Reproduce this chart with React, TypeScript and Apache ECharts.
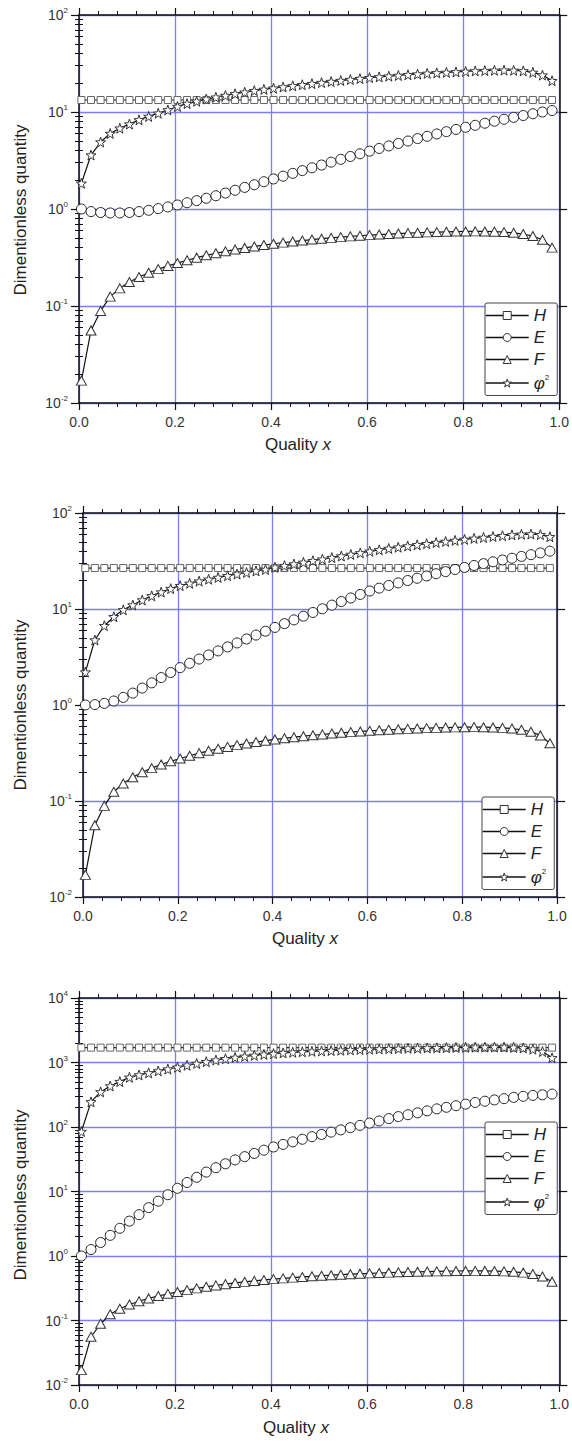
import React, { useEffect, useRef } from "react";
import * as echarts from "echarts";

// ---------- data ----------
const xQuality = [0.005,0.025,0.045,0.065,0.085,0.105,0.125,0.145,0.165,0.185,0.205,0.225,0.245,0.265,0.285,0.305,0.325,0.345,0.365,0.385,0.405,0.425,0.445,0.465,0.485,0.505,0.525,0.545,0.565,0.585,0.605,0.625,0.645,0.665,0.685,0.705,0.725,0.745,0.765,0.785,0.805,0.825,0.845,0.865,0.885,0.905,0.925,0.945,0.965,0.985];

const xTicks = ["0.0", "0.2", "0.4", "0.6", "0.8", "1.0"];

// panel 1
const H1 = [13.3,13.3,13.3,13.3,13.3,13.3,13.3,13.3,13.3,13.3,13.3,13.3,13.3,13.3,13.3,13.3,13.3,13.3,13.3,13.3,13.3,13.3,13.3,13.3,13.3,13.3,13.3,13.3,13.3,13.3,13.3,13.3,13.3,13.3,13.3,13.3,13.3,13.3,13.3,13.3,13.3,13.3,13.3,13.3,13.3,13.3,13.3,13.3,13.3,13.3];
const E1 = [1.00,0.94,0.92,0.91,0.91,0.92,0.94,0.97,1.01,1.05,1.10,1.16,1.22,1.29,1.37,1.46,1.56,1.67,1.78,1.91,2.04,2.18,2.33,2.49,2.66,2.84,3.04,3.25,3.48,3.71,3.95,4.21,4.47,4.74,5.02,5.32,5.62,5.94,6.27,6.61,6.95,7.29,7.66,8.04,8.41,8.81,9.20,9.59,10.0,10.35];
const F1 = [0.017,0.056,0.089,0.125,0.152,0.177,0.199,0.220,0.240,0.259,0.277,0.296,0.315,0.333,0.350,0.366,0.382,0.397,0.411,0.425,0.438,0.450,0.462,0.473,0.484,0.494,0.504,0.513,0.522,0.530,0.538,0.545,0.552,0.558,0.564,0.569,0.574,0.578,0.582,0.585,0.587,0.588,0.587,0.584,0.578,0.568,0.552,0.526,0.482,0.400];
const PHI1 = [1.84,3.6,4.9,6.0,6.8,7.5,8.3,9.0,9.7,10.5,11.4,12.2,12.9,13.6,14.2,14.8,15.4,16.0,16.6,17.1,17.6,18.1,18.6,19.1,19.6,20.1,20.6,21.1,21.6,22.1,22.6,23.0,23.4,23.8,24.2,24.6,25.0,25.3,25.6,25.9,26.2,26.5,26.7,26.9,27.0,26.9,26.5,25.6,24.0,21.0];

// panel 2
const H2 = [26.7,26.7,26.7,26.7,26.7,26.7,26.7,26.7,26.7,26.7,26.7,26.7,26.7,26.7,26.7,26.7,26.7,26.7,26.7,26.7,26.7,26.7,26.7,26.7,26.7,26.7,26.7,26.7,26.7,26.7,26.7,26.7,26.7,26.7,26.7,26.7,26.7,26.7,26.7,26.7,26.7,26.7,26.7,26.7,26.7,26.7,26.7,26.7,26.7,26.7];
const E2 = [1.00,1.01,1.04,1.10,1.20,1.33,1.50,1.70,1.93,2.18,2.45,2.72,3.01,3.32,3.66,4.03,4.43,4.87,5.35,5.87,6.43,7.04,7.70,8.42,9.20,10.05,10.97,11.96,13.03,14.18,15.40,16.5,17.6,18.7,19.8,20.9,22.1,23.3,24.5,25.8,27.1,28.4,29.7,31.0,32.4,33.8,35.3,36.8,38.4,40.0];
const F2 = [0.017,0.056,0.089,0.125,0.152,0.177,0.199,0.220,0.240,0.259,0.277,0.296,0.315,0.333,0.350,0.366,0.382,0.397,0.411,0.425,0.438,0.450,0.462,0.473,0.484,0.494,0.504,0.513,0.522,0.530,0.538,0.545,0.552,0.558,0.564,0.569,0.574,0.578,0.582,0.585,0.587,0.588,0.587,0.584,0.578,0.568,0.552,0.526,0.482,0.400];
const PHI2 = [2.2,4.75,6.7,8.3,9.8,11.0,12.4,13.7,15.0,16.3,17.5,18.5,19.5,20.4,21.3,22.2,23.1,24.0,24.9,25.8,27.2,28.3,29.4,30.6,31.8,33.0,34.3,35.6,37.0,38.4,39.9,41.3,42.7,44.0,45.3,46.6,47.9,49.2,50.5,51.8,53.1,54.4,55.6,56.8,58.0,59.1,60.0,60.3,59.5,56.5];

// panel 3
const H3 = [1700,1700,1700,1700,1700,1700,1700,1700,1700,1700,1700,1700,1700,1700,1700,1700,1700,1700,1700,1700,1700,1700,1700,1700,1700,1700,1700,1700,1700,1700,1700,1700,1700,1700,1700,1700,1700,1700,1700,1700,1700,1700,1700,1700,1700,1700,1700,1700,1700,1700];
const E3 = [1.0,1.26,1.62,2.09,2.69,3.47,4.37,5.62,7.08,8.91,11.2,13.8,16.6,20.0,23.4,26.9,30.9,34.7,38.9,43.7,49.0,53.7,58.9,64.6,70.8,76.7,83.2,90.2,97.7,106,115,124,135,145,155,166,178,191,202,214,226,240,251,263,275,288,299,309,316,324];
const F3 = [0.017,0.056,0.089,0.125,0.152,0.177,0.199,0.220,0.240,0.259,0.277,0.296,0.315,0.333,0.350,0.366,0.382,0.397,0.411,0.425,0.438,0.450,0.462,0.473,0.484,0.494,0.504,0.513,0.522,0.530,0.538,0.545,0.552,0.558,0.564,0.569,0.574,0.578,0.582,0.585,0.587,0.588,0.587,0.584,0.578,0.568,0.552,0.526,0.482,0.400];
const PHI3 = [85,245,350,432,505,589,640,690,740,790,845,905,965,1030,1090,1145,1195,1245,1290,1335,1375,1410,1440,1465,1490,1510,1530,1550,1570,1590,1605,1620,1635,1650,1660,1670,1680,1690,1700,1710,1720,1728,1733,1735,1730,1715,1680,1610,1480,1180];

const seriesNames = ["H", "E", "F", "phi"];
const yTitle = "Dimentionless quantity";
const xTitleWord = "Quality ";
const xTitleVar = "x";

// ---------- layout ----------
const panels = [
  { grid: { left: 79, top: 15, width: 483, height: 388 }, yMin: 0.01, yMax: 100, data: [H1, E1, F1, PHI1], legend: { left: 485, top: 303 }, xTitle: [298, 436], yTitle: [20, 210] },
  { grid: { left: 83, top: 513, width: 474, height: 384 }, yMin: 0.01, yMax: 100, data: [H2, E2, F2, PHI2], legend: { left: 482, top: 797 }, xTitle: [305, 930], yTitle: [20, 705] },
  { grid: { left: 79, top: 998, width: 484, height: 387 }, yMin: 0.01, yMax: 10000, data: [H3, E3, F3, PHI3], legend: { left: 485, top: 1122 }, xTitle: [296, 1419], yTitle: [20, 1195] },
];

const STAR = "path://M10 0 L12.351 6.764 L19.511 6.910 L13.804 11.236 L15.878 18.090 L10 14 L4.122 18.090 L6.196 11.236 L0.489 6.910 L7.649 6.764 Z";
const symbols: any[] = [
  { symbol: "rect", size: 7, border: "#666" },
  { symbol: "circle", size: 10, border: "#222" },
  { symbol: "triangle", size: [10, 9], border: "#333" },
  { symbol: STAR, size: 10, border: "#333" },
];

const FONT = "'Liberation Sans', Arial, sans-serif";
const GRID_BLUE = "#7d7dff";

function minorValues(min: number, max: number) {
  const out: number[] = [];
  for (let d = min; d < max * 0.999; d *= 10) {
    for (let m = 2; m <= 9; m++) out.push(+(m * d).toPrecision(3));
  }
  return out;
}

function yLabel(v: number) {
  const e = Math.round(Math.log10(v));
  return "{b|10}{s|" + e + "}";
}

function buildOption() {
  const grid: any[] = [];
  const xAxis: any[] = [];
  const yAxis: any[] = [];
  const series: any[] = [];
  const legend: any[] = [];
  const graphic: any[] = [];

  panels.forEach((p, i) => {
    grid.push({ ...p.grid, containLabel: false });
    const xBase = {
      gridIndex: i, type: "value", min: 0, max: 1, interval: 0.2,
      axisLine: { show: true, onZero: false, lineStyle: { color: "#111", width: 1.5 } },
      axisTick: { show: true, inside: false, length: 7, lineStyle: { color: "#111", width: 1.2 } },
      minorTick: { show: true, splitNumber: 5, length: 4, lineStyle: { color: "#111", width: 1 } },
    };
    xAxis.push({
      ...xBase, position: "bottom",
      axisLabel: { show: true, margin: 12, fontSize: 14, color: "#333", fontFamily: FONT, formatter: (v: number) => xTicks[Math.round(v / 0.2)] },
      splitLine: { show: true, lineStyle: { color: GRID_BLUE, width: 1.3 } },
    });
    xAxis.push({ ...xBase, position: "top", axisLabel: { show: false }, splitLine: { show: false } });

    const minors = minorValues(p.yMin, p.yMax);
    const yBase = { gridIndex: i, type: "log", logBase: 10, min: p.yMin, max: p.yMax };
    yAxis.push({
      ...yBase, position: "left",
      axisLine: { show: true, onZero: false, lineStyle: { color: "#111", width: 1.5 } },
      axisTick: { show: true, inside: false, length: 8, lineStyle: { color: "#111", width: 1.2 } },
      axisLabel: {
        show: true, margin: 11, formatter: yLabel, fontFamily: FONT,
        rich: {
          b: { fontSize: 14, color: "#333", fontFamily: FONT },
          s: { fontSize: 8, color: "#333", fontFamily: FONT, padding: [0, 0, 9, 0] },
        },
      },
      splitLine: { show: true, lineStyle: { color: GRID_BLUE, width: 1.3 } },
    });
    yAxis.push({
      ...yBase, position: "left",
      axisLine: { show: false },
      axisTick: { show: true, inside: false, length: 4, customValues: minors, lineStyle: { color: "#111", width: 1 } },
      axisLabel: { show: false }, splitLine: { show: false },
    });
    yAxis.push({
      ...yBase, position: "right",
      axisLine: { show: true, onZero: false, lineStyle: { color: "#111", width: 1.5 } },
      axisTick: { show: true, inside: false, length: 8, lineStyle: { color: "#111", width: 1.2 } },
      axisLabel: { show: false }, splitLine: { show: false },
    });
    yAxis.push({
      ...yBase, position: "right",
      axisLine: { show: false },
      axisTick: { show: true, inside: false, length: 4, customValues: minors, lineStyle: { color: "#111", width: 1 } },
      axisLabel: { show: false }, splitLine: { show: false },
    });

    p.data.forEach((arr, k) => {
      const s = symbols[k];
      series.push({
        type: "line", name: seriesNames[k], xAxisIndex: 2 * i, yAxisIndex: 4 * i,
        data: xQuality.map((x, j) => [x, arr[j]]),
        symbol: s.symbol, symbolSize: s.size, showSymbol: true,
        lineStyle: { color: "#111", width: 1.2 },
        itemStyle: { color: "#fff", borderColor: s.border, borderWidth: 1 },
        z: 3 + k,
        silent: true,
      });
    });

    legend.push({
      show: true, orient: "vertical", left: p.legend.left, top: p.legend.top,
      data: seriesNames, itemWidth: 43, itemHeight: 10, itemGap: 5,
      borderColor: "#444", borderWidth: 1, borderRadius: 2, padding: [4, 8, 4, 0],
      backgroundColor: "#fff", selectedMode: false,
      itemStyle: { color: "#fff", borderColor: "#333", borderWidth: 1 },
      lineStyle: { color: "#111", width: 1.4 },
      formatter: (n: string) => (n === "phi" ? "{p|φ}{s|2}" : "{i|" + n + "}"),
      textStyle: {
        fontFamily: FONT, fontSize: 17, color: "#222",
        rich: {
          i: { fontSize: 17, fontStyle: "italic", fontFamily: FONT, color: "#222", lineHeight: 19 },
          p: { fontSize: 17, fontStyle: "italic", fontFamily: FONT, color: "#222", lineHeight: 19 },
          s: { fontSize: 8, fontFamily: FONT, color: "#222", padding: [0, 0, 12, 0] },
        },
      },
    });

    graphic.push({
      type: "text", x: p.xTitle[0], y: p.xTitle[1],
      style: {
        text: "{a|" + xTitleWord + "}{b|" + xTitleVar + "}",
        align: "center", verticalAlign: "top",
        rich: {
          a: { fontSize: 17, fontFamily: FONT, fill: "#222" },
          b: { fontSize: 17, fontFamily: FONT, fontStyle: "italic", fill: "#222" },
        },
      },
    });
    graphic.push({
      type: "text", x: p.yTitle[0], y: p.yTitle[1], rotation: Math.PI / 2,
      style: { text: yTitle, fontSize: 17, fontFamily: FONT, fill: "#222", align: "center", verticalAlign: "middle" },
    });
  });

  return { animation: false, backgroundColor: "#fff", grid, xAxis, yAxis, series, legend, graphic };
}

export default function App() {
  const ref = useRef<HTMLDivElement>(null);
  useEffect(() => {
    if (!ref.current) return;
    const chart = echarts.init(ref.current, null, { renderer: "svg" });
    chart.setOption(buildOption() as any);
    return () => chart.dispose();
  }, []);
  return <div ref={ref} style={{ position: "absolute", left: 0, top: 0, width: 572, height: 1449, background: "#fff" }} />;
}
